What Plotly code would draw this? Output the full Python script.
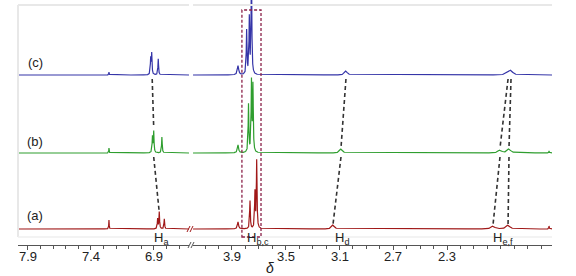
import numpy as np
import plotly.graph_objects as go

# ---------------- data ----------------
# chemical shifts (ppm), heights (arb. units), half-widths (ppm)
labels = ["(a)", "(b)", "(c)"]
offsets = [16, 92, 170]          # stacking offsets of spectra a, b, c

a_pos = [7.257, 6.871, 6.858, 6.818, 3.855, 3.766, 3.729, 3.716, 3.149, 1.958, 1.846, 1.541]
a_hts = [9, 10, 17, 10, 7, 28, 36, 68, 4, 3, 4, 3]
a_wid = [0.002, 0.003, 0.003, 0.003, 0.005, 0.003, 0.003, 0.003, 0.012, 0.015, 0.015, 0.002]

b_pos = [7.257, 6.912, 6.902, 6.837, 3.855, 3.777, 3.755, 3.744, 3.089, 1.906, 1.839, 1.541]
b_hts = [5, 16, 21, 16, 8, 48, 70, 66, 4, 3, 4, 2]
b_wid = [0.002, 0.003, 0.003, 0.003, 0.005, 0.003, 0.003, 0.003, 0.012, 0.015, 0.015, 0.002]

c_pos = [7.257, 6.926, 6.918, 6.866, 3.855, 3.791, 3.771, 3.755, 3.052, 1.846, 1.824]
c_hts = [3, 16, 21, 16, 9, 44, 56, 110, 4, 2.5, 4]
c_wid = [0.002, 0.003, 0.003, 0.003, 0.006, 0.003, 0.003, 0.003, 0.012, 0.015, 0.015]

# proton assignments: shift of the signal in spectra a, b, c; clearance above peaks in a, b
protons = ["H<sub>a</sub>", "H<sub>b,c</sub>", "H<sub>d</sub>", "H<sub>e,f</sub>"]
conn_a = [6.860, 3.149, 1.958, 1.846]
conn_b = [6.902, 3.089, 1.906, 1.839]
conn_c = [6.914, 3.052, 1.846, 1.824]
conn_clear_a = [19, 4, 4, 4]
conn_clear_b = [25, 5, 5, 5]
conn_ax = ["x", "x2", "x2", "x2"]
proton_label_ppm = [6.84, 3.705, 3.085, 1.88]
proton_label_ax = ["x", "x2", "x2", "x2"]

box_ppm = [3.826, 3.684]      # Hb,c highlighted region

left_ticks = [7.9, 7.4, 6.9]
right_ticks = [3.9, 3.5, 3.1, 2.7, 2.3]
left_range = [7.979, 6.622]
right_range = [4.190, 1.519]

colors = ["#a01818", "#2f9e2f", "#3535a8"]

# ---------------- figure ----------------
W, H = 576, 276
PB = 245  # plot-area bottom in pixels
def px(x):
    return x / W
def py(y):
    return PB - y
def pyp(y):
    return (PB - y) / PB

grid_l = np.arange(left_range[1], left_range[0], 0.0004)
grid_r = np.arange(right_range[1], right_range[0], 0.0004)

def spectrum(grid, pos, hts, wid):
    y = np.zeros_like(grid)
    for p, h, w in zip(pos, hts, wid):
        y += h * w ** 2 / ((grid - p) ** 2 + w ** 2)
    return y

fig = go.Figure()
for (pos, hts, wid), off, col in zip([(a_pos, a_hts, a_wid), (b_pos, b_hts, b_wid), (c_pos, c_hts, c_wid)], offsets, colors):
    for grid, xa in [(grid_l, "x"), (grid_r, "x2")]:
        fig.add_trace(go.Scatter(x=grid, y=off + spectrum(grid, pos, hts, wid), mode="lines",
                                 xaxis=xa, yaxis="y", line=dict(color=col, width=1.2),
                                 hoverinfo="skip"))

shapes = []
# light frame
frame_col = "#e8e8e8"
shapes.append(dict(type="line", xref="paper", yref="paper", x0=px(18), x1=px(189), y0=pyp(5), y1=pyp(5), line=dict(color=frame_col, width=2)))
shapes.append(dict(type="line", xref="paper", yref="paper", x0=px(193), x1=px(552), y0=pyp(5), y1=pyp(5), line=dict(color=frame_col, width=2)))
shapes.append(dict(type="line", xref="paper", yref="paper", x0=px(18), x1=px(18), y0=pyp(5), y1=pyp(237), line=dict(color=frame_col, width=2)))
shapes.append(dict(type="line", xref="paper", yref="paper", x0=px(18), x1=px(552), y0=pyp(237), y1=pyp(237), line=dict(color="#efefef", width=1.5)))

# break marks
for dx in [0, 3]:
    shapes.append(dict(type="line", xref="paper", yref="paper", x0=px(188 + dx), x1=px(191 + dx), y0=pyp(248), y1=pyp(242), line=dict(color="#555", width=1)))
    shapes.append(dict(type="line", xref="paper", yref="paper", x0=px(187 + dx), x1=px(190 + dx), y0=pyp(232), y1=pyp(226), line=dict(color=colors[0], width=1)))

# dashed connectors
for pa, pb, pc, ca, cb, xa in zip(conn_a, conn_b, conn_c, conn_clear_a, conn_clear_b, conn_ax):
    shapes.append(dict(type="line", xref=xa, yref="y", x0=pc, y0=offsets[2] - 4, x1=pb, y1=offsets[1] + cb,
                       line=dict(color="#333", width=1.6, dash="4px,3px")))
    shapes.append(dict(type="line", xref=xa, yref="y", x0=pb, y0=offsets[1] - 4, x1=pa, y1=offsets[0] + ca,
                       line=dict(color="#333", width=1.6, dash="4px,3px")))

# highlight box
shapes.append(dict(type="rect", xref="x2", yref="y", x0=box_ppm[0], x1=box_ppm[1], y0=py(237), y1=py(10),
                   line=dict(color="#8b2048", width=1.3, dash="3px,2px"), fillcolor="rgba(0,0,0,0)"))

annotations = []
for lab, yy in zip(labels, [215, 141, 62]):
    annotations.append(dict(text=lab, xref="paper", yref="paper", x=px(35), y=pyp(yy), showarrow=False,
                            font=dict(size=13, color="#222"), xanchor="center", yanchor="middle"))
for t, p, xa in zip(protons, proton_label_ppm, proton_label_ax):
    annotations.append(dict(text=t, xref=xa, yref="paper", x=p, y=pyp(238), showarrow=False,
                            font=dict(size=13, color="#222"), xanchor="center", yanchor="middle"))
# tick labels
for ticks, xa in [(left_ticks, "x"), (right_ticks, "x2")]:
    for v in ticks:
        annotations.append(dict(text=f"{v:.1f}", xref=xa, yref="paper", x=v, y=pyp(256), showarrow=False,
                                font=dict(size=13, color="#222"), xanchor="center", yanchor="middle"))
annotations.append(dict(text="<i>δ</i>", xref="paper", yref="paper", x=px(270), y=pyp(268), showarrow=False,
                        font=dict(size=14, color="#222"), xanchor="center", yanchor="middle"))

axis_common = dict(showline=True, linecolor="#555", linewidth=1, ticks="outside", ticklen=4, tickcolor="#555",
                   showgrid=False, zeroline=False, showticklabels=False,
                   minor=dict(dtick=0.1, tick0=0, ticks="outside", ticklen=3, tickcolor="#555", showgrid=False),
                   anchor="y", fixedrange=True)

fig.update_layout(
    width=W, height=H,
    margin=dict(l=0, r=0, t=0, b=H - PB, pad=0),
    paper_bgcolor="white", plot_bgcolor="white",
    showlegend=False,
    font=dict(family="Liberation Sans, Arial", size=13, color="#222"),
    xaxis=dict(domain=[px(18), px(189)], range=left_range, tickmode="array", tickvals=left_ticks, **axis_common),
    xaxis2=dict(domain=[px(193), px(552)], range=right_range, tickmode="array", tickvals=right_ticks, **axis_common),
    yaxis=dict(range=[0, PB], visible=False, fixedrange=True),
    shapes=shapes, annotations=annotations,
)

fig.write_html("out.html", config={"displayModeBar": False},
               post_script="document.body.style.margin='0';document.body.style.overflow='hidden';")
